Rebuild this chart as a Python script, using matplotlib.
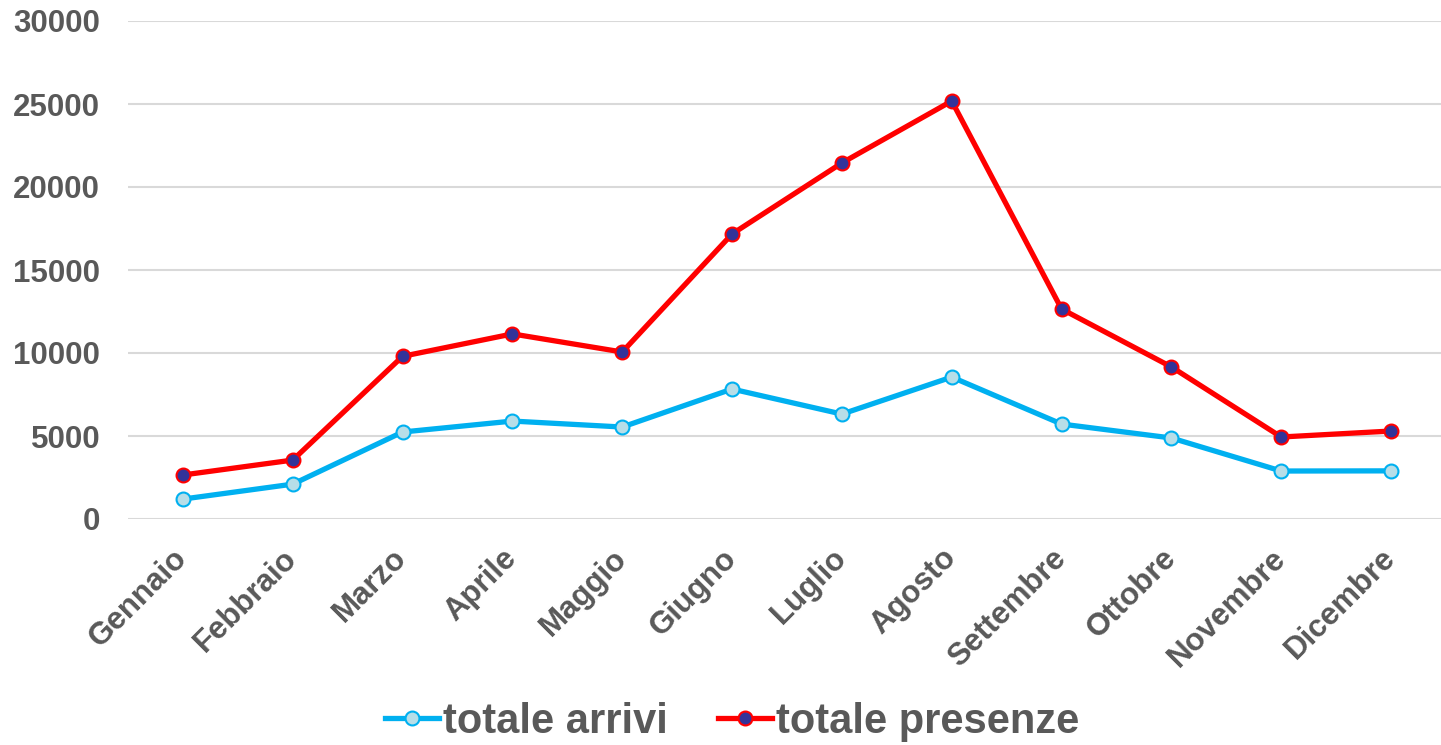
import matplotlib.pyplot as plt

# Monthly values
mesi = ['Gennaio', 'Febbraio', 'Marzo', 'Aprile', 'Maggio', 'Giugno',
        'Luglio', 'Agosto', 'Settembre', 'Ottobre', 'Novembre', 'Dicembre']
arrivi = [1200, 2100, 5240, 5900, 5540, 7830, 6320, 8550, 5720, 4880, 2890, 2900]
presenze = [2650, 3550, 9800, 11150, 10060, 17170, 21450, 25180, 12650, 9160, 4940, 5300]
y_ticks = [0, 5000, 10000, 15000, 20000, 25000, 30000]

plt.rcParams['font.family'] = ['Liberation Sans', 'DejaVu Sans']
plt.rcParams['font.weight'] = 'bold'
text_color = '#595959'

fig = plt.figure(figsize=(14.41, 7.45), dpi=100)
ax = fig.add_axes([128 / 1441, 226 / 745, 1318 / 1441, 498 / 745])

x = range(len(mesi))
ax.plot(x, arrivi, color='#00B0F0', linewidth=3.8, marker='o', markersize=10,
        markerfacecolor='#B7DEE8', markeredgecolor='#00B0F0', markeredgewidth=1.5,
        label='totale arrivi', zorder=3)
ax.plot(x, presenze, color='#FF0000', linewidth=3.8, marker='o', markersize=10,
        markerfacecolor='#333399', markeredgecolor='#FF0000', markeredgewidth=1.5,
        label='totale presenze', zorder=4)

ax.set_xlim(-0.5, len(mesi) - 0.5)
ax.set_ylim(0, 30000)
ax.set_yticks(y_ticks)
ax.set_yticklabels([str(v) for v in y_ticks])
ax.set_xticks(list(x))
ax.set_xticklabels(mesi, rotation=45, ha='right', va='center', rotation_mode='anchor')

ax.grid(axis='y', color='#D9D9D9', linewidth=1.5)
ax.set_axisbelow(True)
for side in ax.spines.values():
    side.set_visible(False)

ax.tick_params(axis='both', length=0, labelsize=22.5, labelcolor=text_color)
ax.tick_params(axis='y', pad=20)
ax.tick_params(axis='x', pad=25)
for lbl in ax.get_xticklabels() + ax.get_yticklabels():
    lbl.set_fontweight('bold')

leg = fig.legend(loc='center', bbox_to_anchor=(0.508, 0.031), ncol=2, frameon=False,
                 prop={'size': 30, 'weight': 'bold'}, handlelength=1.3,
                 handletextpad=0.1, columnspacing=1.2)
for t in leg.get_texts():
    t.set_color(text_color)

fig.savefig('out.png', dpi=100)
